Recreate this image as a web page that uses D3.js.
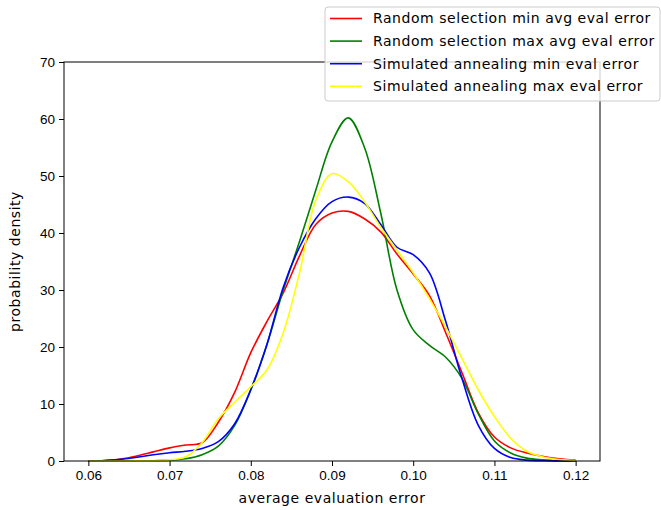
<!DOCTYPE html>
<html>
<head>
<meta charset="utf-8">
<script src="https://cdn.jsdelivr.net/npm/d3@7"></script>
<style>
  body { margin: 0; background: #fff; }
  svg { font-family: "DejaVu Sans", sans-serif; }
  .tick text { font-size: 13.5px; fill: #000; }
  .tick line { stroke: #000; }
  .label { font-size: 14px; letter-spacing: 0.55px; }
</style>
</head>
<body>
<svg width="661" height="510"></svg>
<script>
// x positions of the density samples (average evaluation error)
const xs = [0.060, 0.062, 0.064, 0.066, 0.068, 0.070, 0.072, 0.074, 0.076, 0.078,
            0.080, 0.082, 0.084, 0.086, 0.088, 0.090, 0.092, 0.094, 0.096, 0.098,
            0.100, 0.102, 0.104, 0.106, 0.108, 0.110, 0.112, 0.114, 0.116, 0.118, 0.120];

// density values
const randMin = [0.02, 0.1, 0.35, 0.9, 1.6, 2.3, 2.8, 3.2, 6.8, 12, 19, 24.5, 29.5, 36, 41.5,
                 43.5, 43.8, 42.5, 40.2, 36.3, 32.8, 29, 22.5, 15.5, 8.5, 4.2, 2.3, 1.4, 0.8, 0.4, 0.15];
const randMax = [0, 0, 0, 0.02, 0.05, 0.15, 0.4, 1.1, 2.6, 6.2, 12.5, 20.5, 30, 38.5, 47.5,
                 56, 60.2, 55, 43.5, 30, 23, 20.3, 18.2, 14.5, 8.3, 3.5, 1.4, 0.5, 0.2, 0.06, 0.02];
const saMin = [0.02, 0.1, 0.3, 0.65, 1.1, 1.45, 1.7, 2.2, 3.4, 6.5, 12.5, 20.5, 30.5, 37.5, 42.5,
               45.5, 46.3, 45.2, 41.5, 37.5, 36.2, 33, 24.5, 14.5, 6.3, 2.2, 0.6, 0.15, 0.04, 0.01, 0];
const saMax = [0, 0, 0, 0.02, 0.05, 0.2, 0.75, 3.2, 7.4, 10.3, 13, 16, 22.5, 33, 45.7,
               50.4, 49, 45.5, 41, 37, 33, 28.5, 23.5, 18, 12.5, 7.8, 4, 1.7, 0.7, 0.25, 0.08];

const seriesNames = ["Random selection min avg eval error", "Random selection max avg eval error",
                     "Simulated annealing min eval error", "Simulated annealing max eval error"];
const seriesColors = ["#ff0000", "#008000", "#0000ff", "#ffff00"];
const seriesValues = [randMin, randMax, saMin, saMax];

const xTicks = [0.06, 0.07, 0.08, 0.09, 0.10, 0.11, 0.12];
const yTicks = [0, 10, 20, 30, 40, 50, 60, 70];

const margin = {top: 62, right: 61, bottom: 49, left: 64},
      width = 661 - margin.left - margin.right,
      height = 510 - margin.top - margin.bottom;

const svg = d3.select("svg")
  .append("g")
    .attr("transform", `translate(${margin.left},${margin.top})`);

const x = d3.scaleLinear().domain([0.057, 0.123]).range([0, width]);
const y = d3.scaleLinear().domain([0, 70]).range([height, 0]);

// curves
const line = d3.line()
    .x(d => x(d[0]))
    .y(d => y(d[1]))
    .curve(d3.curveCatmullRom.alpha(0.5));

seriesValues.forEach((vals, i) => {
  svg.append("path")
      .datum(xs.map((v, j) => [v, vals[j]]))
      .attr("fill", "none")
      .attr("stroke", seriesColors[i])
      .attr("stroke-width", 1.6)
      .attr("d", line);
});

// axes
svg.append("g")
    .attr("transform", `translate(0,${height})`)
    .call(d3.axisBottom(x).tickValues(xTicks).tickFormat(d3.format(".2f")).tickSize(5).tickPadding(4));
svg.append("g")
    .call(d3.axisLeft(y).tickValues(yTicks).tickSize(5).tickPadding(4));
svg.selectAll(".domain").remove();

// frame
svg.append("rect")
    .attr("width", width)
    .attr("height", height)
    .attr("fill", "none")
    .attr("stroke", "#000")
    .attr("stroke-width", 1);

// axis labels
svg.append("text")
    .attr("class", "label")
    .attr("x", width / 2)
    .attr("y", height + 42)
    .attr("text-anchor", "middle")
    .text("average evaluation error");

svg.append("text")
    .attr("class", "label")
    .attr("transform", `translate(-44,${height / 2}) rotate(-90)`)
    .attr("text-anchor", "middle")
    .text("probability density");

// legend
const legend = d3.select("svg").append("g")
    .attr("transform", "translate(325,7)");

legend.append("rect")
    .attr("width", 335)
    .attr("height", 94)
    .attr("rx", 3)
    .attr("fill", "#fff")
    .attr("fill-opacity", 0.8)
    .attr("stroke", "#cccccc");

seriesNames.forEach((name, i) => {
  const row = legend.append("g").attr("transform", `translate(0,${11.5 + i * 22.6})`);
  row.append("line")
      .attr("x1", 5).attr("x2", 37)
      .attr("stroke", seriesColors[i])
      .attr("stroke-width", 1.6);
  row.append("text")
      .attr("class", "label")
      .attr("x", 48)
      .attr("dy", "0.35em")
      .text(name);
});
</script>
</body>
</html>
